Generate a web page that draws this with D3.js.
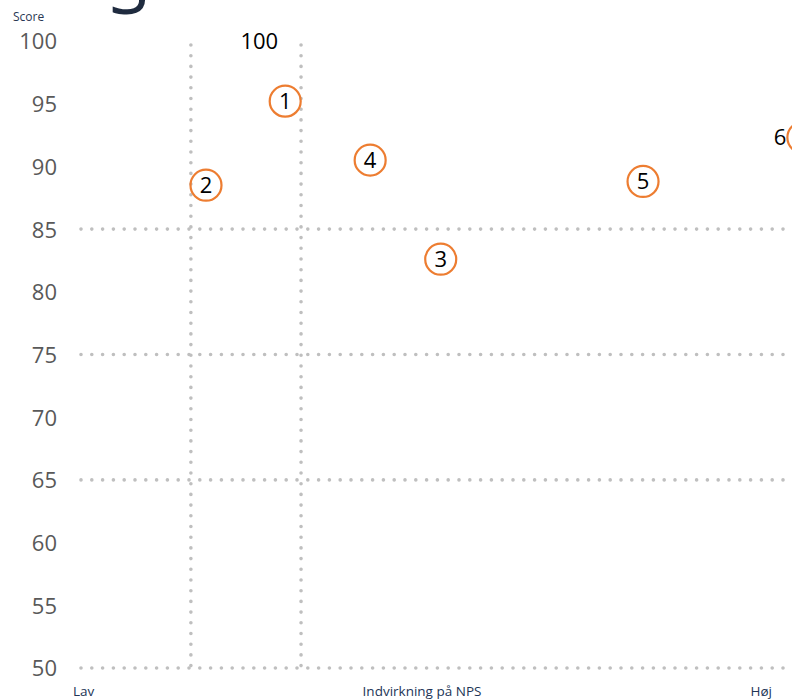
<!DOCTYPE html>
<html>
<head>
<meta charset="utf-8">
<script src="https://cdn.jsdelivr.net/npm/d3@7"></script>
<style>
  html, body { margin: 0; padding: 0; background: #fff; overflow: hidden; }
  svg { display: block; font-family: "Open Sans", sans-serif; }
</style>
</head>
<body>
<svg id="chart" width="792" height="700"></svg>
<script>
// ---- data ----
const yTicks = [50, 55, 60, 65, 70, 75, 80, 85, 90, 95, 100];
const gridScores = [85, 75, 65, 50];
const dividerImpacts = [15.4, 30.7];
const pointIds = ["1", "2", "3", "4", "5", "6"];
const pointImpact = [28.5, 17.5, 50.1, 40.3, 78.2, 100.4];
const pointScore = [95.2, 88.5, 82.6, 90.5, 88.8, 92.3];
const xAxisLabels = ["Lav", "Indvirkning på NPS", "Høj"];
const yAxisTitle = "Score";
const topAnnotation = { text: "100", impact: 24.9, score: 100 };
const titleFragment = "S";

// ---- layout ----
const W = 792, H = 700;
const svg = d3.select("#chart");
const x = d3.scaleLinear().domain([0, 100]).range([80, 800]);
const y = d3.scaleLinear().domain([50, 100]).range([668, 41]);

// clipped title glyph at very top
svg.append("text")
  .attr("x", 109).attr("y", 14)
  .attr("font-size", 72)
  .attr("fill", "#1f2b3f")
  .text(titleFragment);

// y axis title
svg.append("text")
  .attr("x", 13).attr("y", 21)
  .attr("font-size", 12)
  .attr("fill", "#2a3753")
  .text(yAxisTitle);

// y axis tick labels via d3 axis
const yAxis = d3.axisLeft(y).tickValues(yTicks).tickSize(0).tickPadding(0);
const yg = svg.append("g").attr("transform", "translate(57,0)").call(yAxis);
yg.select(".domain").remove();
yg.selectAll("text")
  .attr("font-family", "Open Sans, sans-serif")
  .attr("font-size", 22)
  .attr("fill", "#595959")
  .attr("dy", "0.36em");

// horizontal dotted gridlines
svg.append("g").selectAll("line").data(gridScores).join("line")
  .attr("x1", 81).attr("x2", W + 10)
  .attr("y1", d => y(d)).attr("y2", d => y(d))
  .attr("stroke", "#bfbfbf")
  .attr("stroke-width", 3.6)
  .attr("stroke-linecap", "round")
  .attr("stroke-dasharray", "0 10.8");

// vertical dotted dividers
svg.append("g").selectAll("line").data(dividerImpacts).join("line")
  .attr("x1", d => x(d)).attr("x2", d => x(d))
  .attr("y1", y(100) + 4).attr("y2", y(50))
  .attr("stroke", "#bfbfbf")
  .attr("stroke-width", 3.6)
  .attr("stroke-linecap", "round")
  .attr("stroke-dasharray", "0 10.7");

// annotation "100"
svg.append("text")
  .attr("x", x(topAnnotation.impact)).attr("y", y(topAnnotation.score))
  .attr("dy", "0.36em")
  .attr("text-anchor", "middle")
  .attr("font-size", 22)
  .attr("fill", "#000")
  .text(topAnnotation.text);

// points
const pts = pointIds.map((id, i) => ({ id, impact: pointImpact[i], score: pointScore[i] }));
const pg = svg.append("g").selectAll("g").data(pts).join("g");
pg.append("circle")
  .attr("cx", d => x(d.impact)).attr("cy", d => y(d.score))
  .attr("r", 15.5)
  .attr("fill", "none")
  .attr("stroke", "#ed7d31")
  .attr("stroke-width", 2.2);
pg.append("text")
  .attr("x", d => Math.min(x(d.impact), W - 12))
  .attr("y", d => y(d.score))
  .attr("dy", "0.36em")
  .attr("text-anchor", "middle")
  .attr("font-size", 22)
  .attr("fill", "#000")
  .text(d => d.id);

// x axis labels
const xLabelPos = [
  { anchor: "start", px: 73 },
  { anchor: "middle", px: 422 },
  { anchor: "end", px: 772 }
];
svg.append("g").selectAll("text").data(xAxisLabels).join("text")
  .attr("x", (d, i) => xLabelPos[i].px)
  .attr("y", 696)
  .attr("text-anchor", (d, i) => xLabelPos[i].anchor)
  .attr("font-size", 13.5)
  .attr("fill", "#223556")
  .text(d => d);
</script>
</body>
</html>
